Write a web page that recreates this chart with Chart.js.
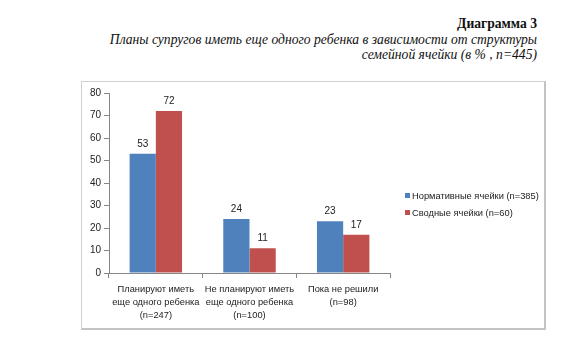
<!DOCTYPE html>
<html lang="ru">
<head>
<meta charset="utf-8">
<title>Диаграмма 3</title>
<script src="https://cdn.jsdelivr.net/npm/chart.js@4.4.1/dist/chart.umd.min.js"></script>
<style>
    body {
        margin: 0;
        background: #fff;
        width: 580px;
        height: 360px;
        position: relative;
        overflow: hidden;
    }

    .titulo {
        position: absolute;
        right: 43px;
        top: 16px;
        text-align: right;
        font-family: "Liberation Serif", "DejaVu Serif", serif;
        color: #111;
        font-size: 13.6px;
        line-height: 15.5px;
    }

    .titulo b,
    .titulo i {
        display: block;
    }

    .marco {
        position: absolute;
        left: 81px;
        top: 81px;
        width: 462px;
        height: 246px;
        border: 1px solid #d0d0d0;
        border-right: 2px solid #c4c4c4;
        border-bottom: 2px solid #c4c4c4;
    }

    .leyenda {
        position: absolute;
        left: 405px;
        top: 190px;
        font-family: "Liberation Sans", "DejaVu Sans", sans-serif;
        font-size: 9.3px;
        color: #222;
    }

    .leyenda div {
        height: 17px;
        line-height: 12px;
        white-space: nowrap;
    }

    .leyenda span {
        display: inline-block;
        width: 5px;
        height: 5px;
        margin-right: 2px;
        vertical-align: 1px;
    }
</style>
</head>
<body>

<div class="titulo">
    <b>Диаграмма 3</b>
    <i>Планы супругов иметь еще одного ребенка в зависимости от структуры<br>семейной ячейки (в % , n=445)</i>
</div>

<div class="marco">
    <canvas id="grafica" width="462" height="246"></canvas>
</div>

<div class="leyenda" id="leyenda"></div>

<script>

// ===============================
// DATOS
// ===============================

const categorias = [
    ["Планируют иметь", "еще одного ребенка", "(n=247)"],
    ["Не планируют иметь", "еще одного ребенка", "(n=100)"],
    ["Пока не решили", "(n=98)"]
];

const normativas = [53, 24, 23];
const sodnye = [72, 11, 17];

const nombresSeries = ["Нормативные ячейки (n=385)", "Сводные ячейки (n=60)"];
const coloresSeries = ["#4F81BD", "#C0504D"];

const ticksY = [0, 10, 20, 30, 40, 50, 60, 70, 80];

const fuente = "'Liberation Sans', 'DejaVu Sans', sans-serif";


// ===============================
// ETIQUETAS SOBRE LAS BARRAS
// ===============================

const etiquetas = {

    id: "etiquetas",

    afterDatasetsDraw(chart) {

        const ctx = chart.ctx;

        ctx.save();
        ctx.fillStyle = "#222";
        ctx.font = "10px " + fuente;
        ctx.textAlign = "center";
        ctx.textBaseline = "bottom";

        chart.data.datasets.forEach((ds, i) => {

            chart.getDatasetMeta(i).data.forEach((barra, j) => {

                ctx.fillText(ds.data[j], barra.x, barra.y - 5);

            });

        });

        ctx.restore();
    }
};


// ===============================
// GRÁFICA
// ===============================

const grafica = new Chart(document.getElementById("grafica"), {

    type: "bar",

    data: {

        labels: categorias,

        datasets: [
            {
                label: nombresSeries[0],
                data: normativas,
                backgroundColor: coloresSeries[0]
            },
            {
                label: nombresSeries[1],
                data: sodnye,
                backgroundColor: coloresSeries[1]
            }
        ]
    },

    options: {

        responsive: false,
        animation: false,

        layout: {
            padding: { top: 11, left: 0, right: 154, bottom: 0 }
        },

        datasets: {
            bar: {
                categoryPercentage: 0.56,
                barPercentage: 1
            }
        },

        plugins: {
            legend: { display: false },
            tooltip: { enabled: false }
        },

        scales: {

            y: {
                min: 0,
                max: 80,
                afterBuildTicks: (eje) => {
                    eje.ticks = ticksY.map(v => ({ value: v }));
                },
                afterFit: (eje) => { eje.width = 27; },
                border: { color: "#868686" },
                grid: {
                    drawOnChartArea: false,
                    tickLength: 5,
                    color: "#868686"
                },
                ticks: {
                    padding: 3,
                    color: "#222",
                    font: { family: fuente, size: 10 }
                }
            },

            x: {
                afterFit: (eje) => { eje.height = 55; },
                border: { color: "#868686" },
                grid: {
                    offset: true,
                    drawOnChartArea: false,
                    tickLength: 5,
                    color: "#868686"
                },
                ticks: {
                    autoSkip: false,
                    maxRotation: 0,
                    padding: 5,
                    color: "#222",
                    font: { family: fuente, size: 9.3, lineHeight: 1.4 }
                }
            }
        }
    },

    plugins: [etiquetas]
});


// ===============================
// LEYENDA
// ===============================

grafica.data.datasets.forEach(ds => {

    const fila = document.createElement("div");
    const cuadro = document.createElement("span");

    cuadro.style.background = ds.backgroundColor;

    fila.appendChild(cuadro);
    fila.appendChild(document.createTextNode(ds.label));

    document.getElementById("leyenda").appendChild(fila);

});

</script>
</body>
</html>
